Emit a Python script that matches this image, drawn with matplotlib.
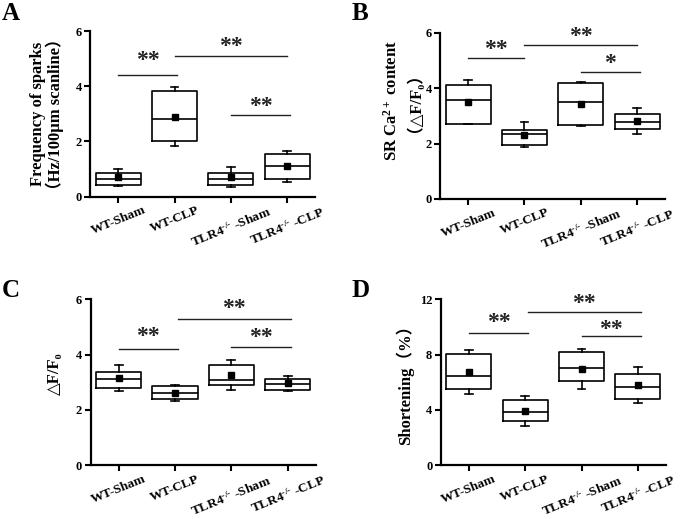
import matplotlib
matplotlib.use('Agg')
import matplotlib.pyplot as plt

plt.rcParams['font.family'] = ['Liberation Serif', 'DejaVu Serif', 'DejaVu Sans', 'Noto Sans CJK SC']
plt.rcParams['font.weight'] = 'bold'
plt.rcParams['mathtext.fontset'] = 'custom'
plt.rcParams['mathtext.rm'] = 'Liberation Serif:bold'
plt.rcParams['mathtext.bf'] = 'Liberation Serif:bold'
plt.rcParams['mathtext.it'] = 'Liberation Serif:italic:bold'

# ---------------- data ----------------
categories = ['WT-Sham', 'WT-CLP', r'TLR4$^{\text{-/-}}$ -Sham', r'TLR4$^{\text{-/-}}$ -CLP']

# Panel A: frequency of sparks
a_q1 = [0.42, 2.01, 0.42, 0.64]
a_med = [0.65, 2.81, 0.65, 1.11]
a_q3 = [0.87, 3.82, 0.87, 1.55]
a_lo = [0.40, 1.83, 0.36, 0.55]
a_hi = [0.99, 3.99, 1.07, 1.65]
a_mean = [0.71, 2.90, 0.73, 1.11]
a_yticks = [0, 2, 4, 6]
# (from, to, line height, star height, label)
a_sig = [(0, 1.05, 4.42, 5.14, '**'), (1, 3, 5.11, 5.66, '**'), (2, 3.05, 2.96, 3.47, '**')]

# Panel B: SR Ca2+ content
b_q1 = [2.70, 1.95, 2.66, 2.51]
b_med = [3.58, 2.34, 3.49, 2.77]
b_q3 = [4.12, 2.49, 4.17, 3.06]
b_lo = [2.72, 1.86, 2.64, 2.35]
b_hi = [4.29, 2.77, 4.23, 3.27]
b_mean = [3.51, 2.31, 3.43, 2.82]
b_yticks = [0, 2, 4, 6]
b_sig = [(0, 1.0, 5.07, 5.60, '**'), (1, 3, 5.57, 6.05, '**'), (2, 3.05, 4.58, 5.08, '*')]

# Panel C: dF/F0
c_q1 = [2.79, 2.39, 2.91, 2.72]
c_med = [3.13, 2.63, 3.08, 2.93]
c_q3 = [3.38, 2.86, 3.61, 3.11]
c_lo = [2.67, 2.32, 2.72, 2.69]
c_hi = [3.62, 2.92, 3.80, 3.22]
c_mean = [3.14, 2.62, 3.25, 2.96]
c_yticks = [0, 2, 4, 6]
c_sig = [(0, 1.05, 4.22, 4.87, '**'), (1.05, 3.05, 5.30, 5.88, '**'), (2, 3.05, 4.28, 4.83, '**')]

# Panel D: shortening (%)
d_q1 = [5.53, 3.17, 6.06, 4.79]
d_med = [6.47, 3.85, 7.02, 5.65]
d_q3 = [8.08, 4.74, 8.18, 6.59]
d_lo = [5.19, 2.84, 5.51, 4.52]
d_hi = [8.35, 4.98, 8.44, 7.09]
d_mean = [6.78, 3.90, 6.95, 5.82]
d_yticks = [0, 4, 8, 12]
d_sig = [(0, 1.05, 9.60, 10.75, '**'), (1.05, 3.05, 11.09, 12.07, '**'), (2, 3.05, 9.36, 10.20, '**')]

# y-axis label lines for each panel
a_ylabel = ['Frequency of sparks', '（Hz/100μm scanline）']
b_ylabel = ['SR Ca$^{2+}$ content', '（△F/F₀）']
c_ylabel = ['△F/F₀']
d_ylabel = ['Shortening（%）']

# ---------------- figure ----------------
fig = plt.figure(figsize=(7.0, 5.19), dpi=100)
W, H = 700.0, 519.0

def rect(left_px, top_px, right_px, bottom_px):
    return [left_px / W, 1 - bottom_px / H, (right_px - left_px) / W, (bottom_px - top_px) / H]

panels = [
    dict(r=rect(90, 31, 315.4, 196.7), q1=a_q1, med=a_med, q3=a_q3, lo=a_lo, hi=a_hi, mean=a_mean,
         yt=a_yticks, sig=a_sig, letter='A', lpos=(2, 20),
         ylabel=a_ylabel, ylpos=[(38.3, 113.8), (55.0, 113.8)]),
    dict(r=rect(440, 32.7, 665.3, 199), q1=b_q1, med=b_med, q3=b_q3, lo=b_lo, hi=b_hi, mean=b_mean,
         yt=b_yticks, sig=b_sig, letter='B', lpos=(352, 20),
         ylabel=b_ylabel, ylpos=[(391.5, 100), (406.0, 94)]),
    dict(r=rect(90.5, 299.3, 315.9, 465.3), q1=c_q1, med=c_med, q3=c_q3, lo=c_lo, hi=c_hi, mean=c_mean,
         yt=c_yticks, sig=c_sig, letter='C', lpos=(2, 297),
         ylabel=c_ylabel, ylpos=[(55, 374)]),
    dict(r=rect(440.7, 299.3, 666, 465.3), q1=d_q1, med=d_med, q3=d_q3, lo=d_lo, hi=d_hi, mean=d_mean,
         yt=d_yticks, sig=d_sig, letter='D', lpos=(352, 297),
         ylabel=d_ylabel, ylpos=[(405, 381)]),
]

lw_box = 1.2
for p in panels:
    ax = fig.add_axes(p['r'])
    stats = []
    for i in range(len(categories)):
        stats.append(dict(med=p['med'][i], q1=p['q1'][i], q3=p['q3'][i],
                          whislo=p['lo'][i], whishi=p['hi'][i], mean=p['mean'][i]))
    ax.bxp(stats, positions=range(len(categories)), widths=0.8, capwidths=0.14,
           showmeans=True, showfliers=False,
           boxprops=dict(color='black', lw=lw_box),
           medianprops=dict(color='black', lw=lw_box),
           whiskerprops=dict(color='black', lw=lw_box),
           capprops=dict(color='black', lw=lw_box),
           meanprops=dict(marker='s', markerfacecolor='black', markeredgecolor='black', markersize=4))
    ax.set_xlim(-0.5, 3.5)
    ax.set_ylim(p['yt'][0], p['yt'][-1])
    ax.set_yticks(p['yt'])
    ax.set_xticks(range(len(categories)))
    ax.set_xticklabels(categories, rotation=22, ha='center', va='top', fontsize=9.5, fontweight='bold')
    for lab in ax.get_yticklabels():
        lab.set_fontweight('bold')
        lab.set_fontsize(9)
    ax.tick_params(axis='both', direction='out', length=4, width=1.5, color='black')
    ax.tick_params(axis='x', pad=1.5)
    ax.tick_params(axis='y', pad=2)
    for s in ['top', 'right']:
        ax.spines[s].set_visible(False)
    for s in ['left', 'bottom']:
        ax.spines[s].set_linewidth(1.6)
    ax.patch.set_alpha(0)
    for (x0, x1, yl, ys, t) in p['sig']:
        ax.plot([x0, x1], [yl, yl], color='#222222', lw=1.0, clip_on=False)
        ax.annotate(t, xy=((x0 + x1) / 2, ys), xytext=(0, -8.0), textcoords='offset points',
                    ha='center', va='baseline', fontsize=17, fontweight='bold',
                    family=['Liberation Serif'], color='#222222', annotation_clip=False)
    fig.text(p['lpos'][0] / W, 1 - p['lpos'][1] / H, p['letter'], ha='left', va='baseline',
             fontsize=18, fontweight='bold')
    for txt, (lx, ly) in zip(p['ylabel'], p['ylpos']):
        fig.text(lx / W, 1 - ly / H, txt, rotation=90, ha='center', va='center',
                 fontsize=12, fontweight='bold')

fig.savefig('out.png', dpi=100, facecolor='white')
